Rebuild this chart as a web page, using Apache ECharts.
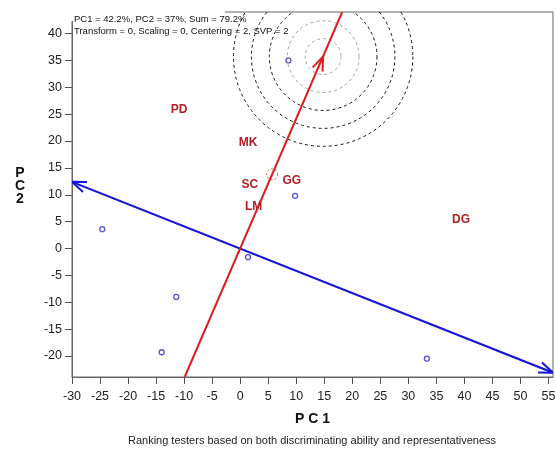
<!DOCTYPE html>
<html>
<head>
<meta charset="utf-8">
<script src="https://cdn.jsdelivr.net/npm/echarts@6/dist/echarts.min.js"></script>
<style>
  html, body { margin: 0; padding: 0; background: #fff; }
  #chart { width: 555px; height: 449px; }
</style>
</head>
<body>
<div id="chart"></div>
<script>
/* GGE-style biplot: testers ranked on discriminating ability and representativeness */
var testerX = [8.6, 9.8, -24.6, 1.4, -11.4, -14.0, 33.3];
var testerY = [35.0, 9.8, 3.6, -1.6, -9.0, -19.3, -20.5];

var envNames = ['PD', 'MK', 'SC', 'GG', 'LM', 'DG'];
var envX = [-10.9, 1.4, 1.7, 9.2, 2.4, 39.4];
var envY = [25.9, 19.6, 11.8, 12.7, 7.8, 5.3];

var aeaPoint = [14.8, 35.7];
var ringRadii = [3.2, 6.4, 9.6, 12.8, 16.0];
var meanPoint = [5.7, 13.8];

var redAxisX = [-9.9, 18.2];
var redAxisY = [-23.9, 44];
var blueAxisX = [-30, 55.8];
var blueAxisY = [12.4, -23.1];

var xTicks = [-30, -25, -20, -15, -10, -5, 0, 5, 10, 15, 20, 25, 30, 35, 40, 45, 50, 55];
var yTicks = [-20, -15, -10, -5, 0, 5, 10, 15, 20, 25, 30, 35, 40];

var font = 'Arial, "Liberation Sans", sans-serif';
var red = '#e01b1b';
var blue = '#1616d8';
var labelRed = '#b21f24';
var markBlue = '#2b2bc0';

function arrowHead(tip, back, color) {
  var dx = tip[0] - back[0], dy = tip[1] - back[1];
  var len = Math.sqrt(dx * dx + dy * dy);
  dx /= len; dy /= len;
  var L = 15, a = 21 * Math.PI / 180;
  function arm(s) {
    var c = Math.cos(s * a), sn = Math.sin(s * a);
    var rx = dx * c - dy * sn, ry = dx * sn + dy * c;
    return [tip[0] - rx * L, tip[1] - ry * L];
  }
  return {
    type: 'polyline',
    shape: { points: [arm(1), tip, arm(-1)] },
    style: { stroke: color, lineWidth: 2, fill: null }
  };
}

var chart = echarts.init(document.getElementById('chart'), null, { renderer: 'canvas' });

chart.setOption({
  animation: false,
  grid: {
    left: 72, right: 2, top: 12, bottom: 72,
    outerBoundsMode: 'none', containLabel: false,
    show: true, borderColor: '#666', borderWidth: 1
  },
  xAxis: {
    type: 'value', min: -30, max: 55.8,
    name: 'P C 1', nameLocation: 'middle', nameGap: 35,
    nameTextStyle: { fontFamily: font, fontWeight: 'bold', fontSize: 14, color: '#111' },
    axisLine: { onZero: false, lineStyle: { color: '#666' } },
    axisTick: { show: true, inside: false, length: 7, customValues: xTicks, lineStyle: { color: '#555' } },
    axisLabel: { customValues: xTicks, fontFamily: font, fontSize: 12.5, color: '#222', margin: 13 },
    splitLine: { show: false }
  },
  yAxis: {
    type: 'value', min: -23.9, max: 44,
    axisLine: { show: true, onZero: false, lineStyle: { color: '#666' } },
    axisTick: { show: true, inside: false, length: 7, customValues: yTicks, lineStyle: { color: '#555' } },
    axisLabel: { customValues: yTicks, fontFamily: font, fontSize: 12.5, color: '#222', margin: 10 },
    splitLine: { show: false }
  },
  graphic: [
    { type: 'rect', z: 1, shape: { x: 70, y: 4, width: 155, height: 17 }, style: { fill: '#fff' } },
    { type: 'text', z: 3, left: 74, top: 14, style: { text: 'PC1 = 42.2%, PC2 = 37%, Sum = 79.2%', font: '9.5px ' + font, fill: '#111' } },
    { type: 'text', z: 3, left: 74, top: 26, style: { text: 'Transform = 0, Scaling = 0, Centering = 2, SVP = 2', font: '9.5px ' + font, fill: '#111' } },
    { type: 'text', z: 3, x: 20, y: 167, style: { text: 'P\nC\n2', font: 'bold 14px ' + font, fill: '#111', align: 'center', lineHeight: 13 } },
    { type: 'text', z: 3, x: 312, y: 435, style: { text: 'Ranking testers based on both discriminating ability and representativeness', font: '11px ' + font, fill: '#222', align: 'center' } }
  ],
  series: [
    {
      // concentric rings around the average-environment point
      type: 'custom', clip: true, z: 2,
      data: [0],
      renderItem: function (params, api) {
        var c = api.coord(aeaPoint);
        var unit = api.coord([aeaPoint[0] + 1, aeaPoint[1]])[0] - c[0];
        var cs = params.coordSys;
        var kids = ringRadii.map(function (r, i) {
          return {
            type: 'circle',
            shape: { cx: c[0], cy: c[1], r: r * unit },
            style: { fill: null, stroke: i < 2 ? '#a0a0a0' : '#111', lineWidth: 1, lineDash: [3, 3] }
          };
        });
        return {
          type: 'group', children: kids,
          clipPath: { type: 'rect', shape: { x: cs.x, y: cs.y, width: cs.width, height: cs.height } }
        };
      }
    },
    {
      // AEA axis (red) and its perpendicular (blue), with open arrow heads
      type: 'custom', clip: true, z: 4,
      data: [0],
      renderItem: function (params, api) {
        var r0 = api.coord([redAxisX[0], redAxisY[0]]);
        var r1 = api.coord([redAxisX[1], redAxisY[1]]);
        var b0 = api.coord([blueAxisX[0], blueAxisY[0]]);
        var b1 = api.coord([blueAxisX[1], blueAxisY[1]]);
        var tip = api.coord(aeaPoint);
        var origin = api.coord([0, 0]);
        return {
          type: 'group',
          children: [
            { type: 'line', shape: { x1: b0[0], y1: b0[1], x2: b1[0], y2: b1[1] }, style: { stroke: blue, lineWidth: 2 } },
            arrowHead(b0, b1, blue),
            arrowHead(b1, b0, blue),
            { type: 'line', shape: { x1: r0[0], y1: r0[1], x2: r1[0], y2: r1[1] }, style: { stroke: red, lineWidth: 2 } },
            arrowHead(tip, origin, red)
          ]
        };
      }
    },
    {
      // testers
      type: 'scatter', z: 5,
      symbol: 'circle', symbolSize: 5,
      itemStyle: { color: '#fff', borderColor: markBlue, borderWidth: 1.3 },
      data: testerX.map(function (x, i) { return [x, testerY[i]]; })
    },
    {
      // mean-environment marker on the AEA axis
      type: 'scatter', z: 5,
      symbol: 'circle', symbolSize: 11,
      itemStyle: { color: 'rgba(0,0,0,0)', borderColor: red, borderWidth: 1, borderType: [2, 2] },
      data: [meanPoint]
    },
    {
      // environment labels
      type: 'custom', z: 6,
      data: envX.map(function (x, i) { return [x, envY[i], envNames[i]]; }),
      renderItem: function (params, api) {
        var p = api.coord([api.value(0), api.value(1)]);
        return {
          type: 'text', x: p[0], y: p[1],
          style: { text: envNames[params.dataIndex], font: 'bold 12px ' + font, fill: labelRed, align: 'center', verticalAlign: 'middle' }
        };
      }
    }
  ]
});
</script>
</body>
</html>
